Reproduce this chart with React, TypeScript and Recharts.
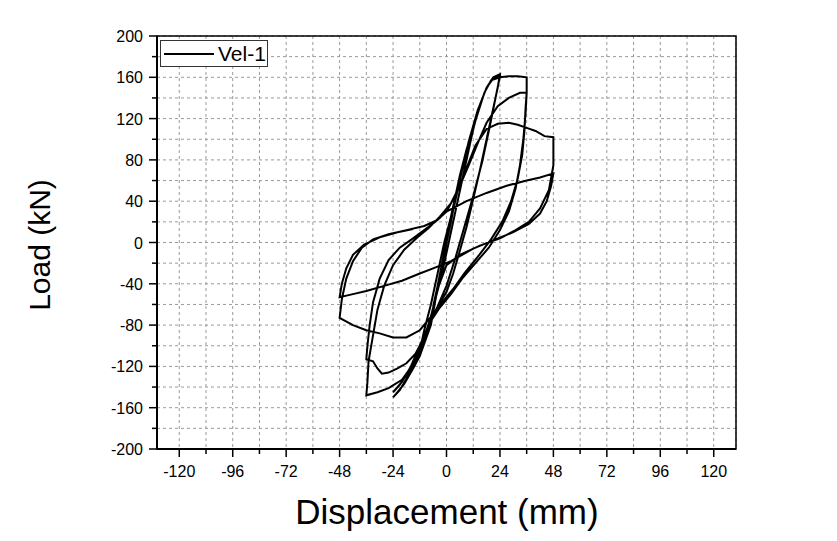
import { CartesianGrid, Line, LineChart, ReferenceArea, XAxis, YAxis } from "recharts";

const FONT = "'Liberation Sans', Arial, sans-serif";

// tick positions (labels only on majors)
const xTicks = [-120, -108, -96, -84, -72, -60, -48, -36, -24, -12, 0, 12, 24, 36, 48, 60, 72, 84, 96, 108, 120];
const yTicks = [-200, -180, -160, -140, -120, -100, -80, -60, -40, -20, 0, 20, 40, 60, 80, 100, 120, 140, 160, 180, 200];

// displacement (mm), read in order along the test record
const dispMm = [
  0, 2, 4, 6, 4, 2, 0, -2, -4, -6, -4, -2, 0,
  3, 6, 9, 12, 10, 7, 4, 1, -2, -5, -8, -12, -10, -7, -4, -1,
  2, 6, 10, 14, 18, 21, 24,
  23, 21, 18, 15, 12, 9, 6, 3, 0, -4, -7, -10, -14, -18, -21, -24,
  -22, -19, -15, -12, -9, -7, -5, -2, 1, 4, 7, 11, 14, 18, 21, 24,
  22, 19, 16, 12, 8, 4, 0, -4, -8, -12, -16, -20, -24,
  -21, -17, -13, -10, -7, -4, -1, 2, 5, 9, 13, 17, 20, 24, 28, 32, 36,
  36, 35.5, 34.5, 33, 31, 28, 24, 19, 13, 7, 2, -3, -7, -11, -15, -20, -26, -31, -36,
  -35.5, -35, -33, -31, -28, -24, -19, -13, -8, -3, 2, 6, 10, 14, 18, 23, 28, 33, 36,
  35.5, 35, 34, 32, 29, 25, 20, 14, 8, 3, -2, -7, -10, -14, -18, -22, -26, -29, -31, -33, -36,
  -35.5, -34.5, -33, -30, -26, -21, -15, -10, -5, 0, 5, 9, 13, 18, 23, 28, 32, 36, 40, 44, 48,
  48, 46, 42, 37, 31, 24, 15, 6, 0, -4, -7, -12, -18, -24, -30, -36, -42, -48,
  -47, -45, -42, -38, -33, -26, -18, -10, -4, 0, 9, 18, 27, 36, 42, 48,
  47, 45, 42, 37, 30, 22, 12, 2, -6, -12, -20, -28, -36, -42, -48,
  -47, -45, -42, -37, -30, -22, -15,
];

// load (kN), same order
const loadKn = [
  0, 20, 42, 62, 44, 22, 0, -22, -44, -62, -42, -20, 2,
  35, 65, 90, 110, 90, 60, 30, 0, -30, -55, -80, -105, -85, -60, -30, 0,
  25, 62, 98, 128, 150, 160, 163,
  150, 130, 100, 70, 42, 15, -8, -30, -48, -62, -76, -95, -115, -132, -143, -150,
  -145, -137, -122, -110, -92, -80, -56, -22, 12, 41, 70, 100, 128, 150, 159, 161,
  140, 108, 78, 45, 15, -15, -42, -62, -80, -100, -120, -135, -145,
  -138, -125, -108, -92, -75, -45, -10, 25, 55, 85, 118, 145, 157, 160, 161, 161, 160,
  145, 125, 100, 75, 52, 30, 12, -5, -20, -35, -50, -63, -76, -98, -118, -133, -141, -145, -148,
  -135, -115, -90, -65, -42, -22, -7, 5, 14, 25, 38, 55, 75, 96, 116, 132, 140, 145, 145,
  130, 108, 85, 62, 40, 20, 3, -14, -30, -45, -58, -72, -92, -108, -117, -122, -126, -127, -122, -115, -113,
  -100, -80, -58, -35, -17, -5, 4, 12, 20, 30, 50, 72, 94, 110, 115, 116, 114, 111, 108, 103, 102,
  75, 51, 33, 20, 12, 4, -3, -12, -22, -45, -72, -85, -92, -92, -88, -85, -80, -73,
  -55, -35, -18, -5, 3, 8, 12, 16, 22, 30, 40, 48, 55, 60, 63, 67,
  55, 40, 28, 18, 10, 3, -6, -18, -25, -30, -37, -42, -47, -50, -53,
  -40, -25, -12, -2, 5, 10, 13,
];

const rows = dispMm.map((d, i) => ({ disp: d, load: loadKn[i] }));

function XTick(props: any) {
  const { x, y, payload } = props;
  const major = payload.value % 24 === 0;
  return (
    <g>
      <line x1={x} y1={y} x2={x} y2={y + (major ? 8 : 5)} stroke="#000" strokeWidth={1.5} />
      {major && (
        <text x={x} y={y + 28} textAnchor="middle" fontSize={16} fontFamily={FONT} fill="#000">
          {payload.value}
        </text>
      )}
    </g>
  );
}

function YTick(props: any) {
  const { x, y, payload } = props;
  const major = payload.value % 40 === 0;
  return (
    <g>
      <line x1={x} y1={y} x2={x - (major ? 8 : 5)} y2={y} stroke="#000" strokeWidth={1.5} />
      {major && (
        <text x={x - 14} y={y + 6} textAnchor="end" fontSize={16} fontFamily={FONT} fill="#000">
          {payload.value}
        </text>
      )}
    </g>
  );
}

export default function App() {
  return (
    <div style={{ position: "relative", width: 821, height: 525 }}>
      <LineChart width={821} height={525} data={rows} margin={{ top: 28, right: 93, bottom: 44, left: 79 }}>
        <CartesianGrid stroke="#9a9a9a" strokeDasharray="3 3" />
        <XAxis
          type="number"
          dataKey="disp"
          domain={[-130, 130]}
          ticks={xTicks}
          interval={0}
          height={40}
          tickSize={0}
          tickMargin={0}
          tickLine={false}
          tick={<XTick />}
          axisLine={{ stroke: "#000", strokeWidth: 2 }}
        />
        <YAxis
          type="number"
          dataKey="load"
          domain={[-200, 200]}
          ticks={yTicks}
          interval={0}
          width={70}
          tickSize={0}
          tickMargin={0}
          tickLine={false}
          tick={<YTick />}
          axisLine={{ stroke: "#000", strokeWidth: 2 }}
        />
        <ReferenceArea x1={-130} x2={130} y1={-200} y2={200} fill="none" stroke="#000" strokeWidth={1.5} />
        <Line
          type="linear"
          dataKey="load"
          stroke="#000"
          strokeWidth={2}
          dot={false}
          isAnimationActive={false}
        />
      </LineChart>

      {/* legend box */}
      <div
        style={{
          position: "absolute",
          left: 152,
          top: 32,
          width: 108,
          height: 27,
          border: "1px solid #333",
          background: "#fff",
          display: "flex",
          alignItems: "center",
          fontFamily: FONT,
          fontSize: 21,
          boxSizing: "border-box",
        }}
      >
        <svg width={52} height={10} style={{ marginLeft: 3 }}>
          <line x1={0} y1={5} x2={50} y2={5} stroke="#000" strokeWidth={2} />
        </svg>
        <span style={{ marginLeft: 2 }}>Vel-1</span>
      </div>

      {/* axis titles */}
      <div
        style={{
          position: "absolute",
          left: 32,
          top: 237,
          transform: "translate(-50%, -50%) rotate(-90deg)",
          fontFamily: FONT,
          fontSize: 30,
          whiteSpace: "nowrap",
        }}
      >
        Load (kN)
      </div>
      <div
        style={{
          position: "absolute",
          left: 439,
          top: 504,
          transform: "translate(-50%, -50%)",
          fontFamily: FONT,
          fontSize: 35,
          whiteSpace: "nowrap",
        }}
      >
        Displacement (mm)
      </div>
    </div>
  );
}
